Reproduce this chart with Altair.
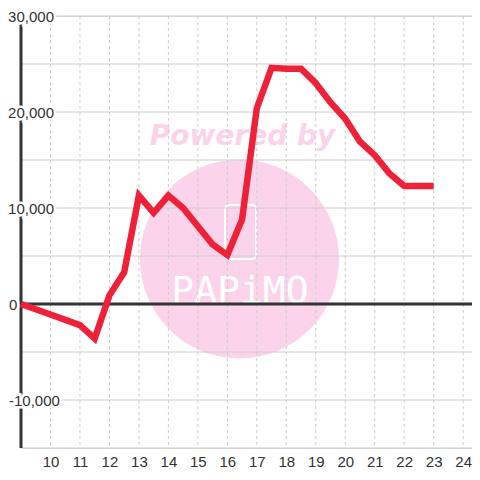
import altair as alt
import pandas as pd

# ---- data ----
hours = [9, 10, 11, 11.5, 12, 12.5, 13, 13.5, 14, 14.5, 15, 15.5, 16, 16.5,
         17, 17.5, 18, 18.5, 19, 19.5, 20, 20.5, 21, 21.5, 22, 22.5, 23]
values = [0, -1100, -2200, -3600, 900, 3300, 11300, 9500, 11300, 10000, 8100, 6200, 5100, 8800,
          20400, 24600, 24500, 24500, 23000, 21000, 19300, 16900, 15500, 13600, 12300, 12300, 12300]

x_ticks = list(range(10, 25))
y_grid = [-15000, -10000, -5000, 0, 5000, 10000, 15000, 20000, 25000, 30000]
y_label_vals_right = [30000, 20000, 10000]
y_label_text_right = ["30,000", "20,000", "10,000"]
y_label_vals_left = [0, -10000]
y_label_text_left = ["0", "-10,000"]

df = pd.DataFrame({"hour": hours, "value": values})
df_vgrid = pd.DataFrame({"hour": x_ticks})
df_hgrid = pd.DataFrame({"value": y_grid})
df_lab_r = pd.DataFrame({"value": y_label_vals_right, "t": y_label_text_right})
df_lab_l = pd.DataFrame({"value": y_label_vals_left, "t": y_label_text_left})
df_one = pd.DataFrame({"t": ["Powered by"]})
df_logo = pd.DataFrame({"t": ["PAPiMO"]})
df_axis = pd.DataFrame({"hour": [9], "value": [0]})

FONT = "Liberation Sans"
GRID = "#cccccc"
DARK = "#333333"
PINK = "#fbd4eb"
RED = "#ef2139"

x_axis = alt.Axis(values=x_ticks, grid=False, domain=False, ticks=False,
                  labelFontSize=15, labelColor=DARK, labelFont=FONT,
                  labelPadding=6, title=None)
xs = alt.Scale(domain=[9, 24.3], nice=False, zero=False)
ys = alt.Scale(domain=[-15000, 30000], nice=False, zero=False)

def X(field="hour"):
    return alt.X(f"{field}:Q", scale=xs, axis=x_axis)

def Y(field="value"):
    return alt.Y(f"{field}:Q", scale=ys, axis=None)

# watermark
circle = alt.Chart(df_one).mark_point(shape="circle", filled=True, size=39600,
                                      color=PINK, opacity=1).encode(
    x=alt.value(218.5), y=alt.value(243))
powered = alt.Chart(df_one).mark_text(font="DejaVu Sans", fontSize=28, fontWeight="bold",
                                      fontStyle="italic", color=PINK, align="center",
                                      baseline="alphabetic").encode(
    text="t:N", x=alt.value(221.5), y=alt.value(129))
icon = alt.Chart(df_one).mark_rect(fillOpacity=0, stroke="white", strokeWidth=2,
                                   cornerRadius=4).encode(
    x=alt.value(204), x2=alt.value(235), y=alt.value(189), y2=alt.value(243))
logo = alt.Chart(df_logo).mark_text(font="DejaVu Sans Mono", fontSize=38, color="white",
                                    align="center", baseline="alphabetic").encode(
    text="t:N", x=alt.value(219), y=alt.value(287))

# grid
hgrid = alt.Chart(df_hgrid).mark_rule(color=GRID, strokeWidth=1).encode(y=Y())
vgrid = alt.Chart(df_vgrid).mark_rule(color=GRID, strokeWidth=1, strokeDash=[3, 3]).encode(x=X())

# axis lines
yline = alt.Chart(df_axis).mark_rule(color=DARK, strokeWidth=3).encode(x=X())
zline = alt.Chart(df_axis).mark_rule(color=DARK, strokeWidth=3).encode(y=Y())

line = alt.Chart(df).mark_line(color=RED, strokeWidth=6.5).encode(x=X(), y=Y())

def labels(d, xpx, align):
    halo = alt.Chart(d).mark_text(font=FONT, fontSize=15, align=align, baseline="middle",
                                  dy=1, stroke="white", strokeWidth=5, color="white").encode(
        text="t:N", y=Y(), x=alt.value(xpx))
    txt = alt.Chart(d).mark_text(font=FONT, fontSize=15, align=align, baseline="middle",
                                 dy=1, color=DARK).encode(
        text="t:N", y=Y(), x=alt.value(xpx))
    return halo, txt

hr, tr = labels(df_lab_r, 33, "right")
hl, tl = labels(df_lab_l, -12, "left")

chart = alt.layer(circle, powered, icon, logo, hgrid, vgrid, zline, yline, line,
                  hr, tr, hl, tl).properties(
    width=451, height=432,
    autosize=alt.AutoSizeParams(type="none"),
    padding={"left": 13, "top": 8, "right": 0, "bottom": 20},
).configure_view(stroke=None).configure(background="white")

chart.save("out.html", embed_options={"renderer": "svg", "actions": False})
